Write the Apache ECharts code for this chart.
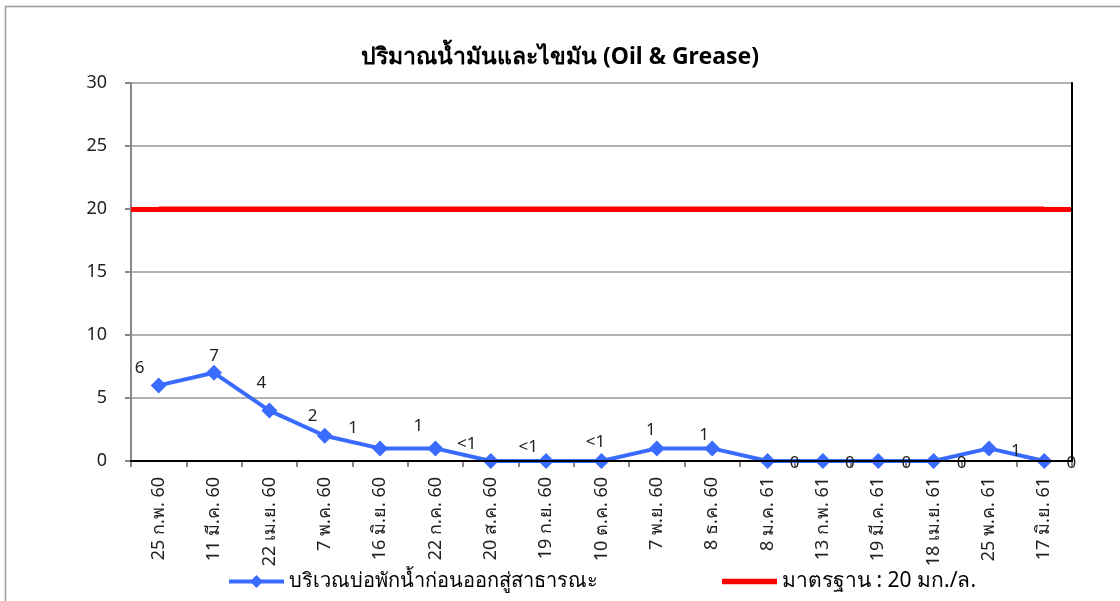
<!DOCTYPE html>
<html>
<head>
    <meta charset="utf-8" />
    <title>Oil & Grease</title>
    <script src="https://cdn.jsdelivr.net/npm/echarts@6/dist/echarts.min.js"></script>
    <style>
        html, body { margin: 0; padding: 0; background: #fff; }
        #main { width: 1120px; height: 601px; }
    </style>
</head>
<body>
    <div id="main"></div>
    <script type="text/javascript">
        // วันที่เก็บตัวอย่าง
        var dates = ['25 ก.พ. 60', '11 มี.ค. 60', '22 เม.ย. 60', '7 พ.ค. 60', '16 มิ.ย. 60', '22 ก.ค. 60',
            '20 ส.ค. 60', '19 ก.ย. 60', '10 ต.ค. 60', '7 พ.ย. 60', '8 ธ.ค. 60', '8 ม.ค. 61',
            '13 ก.พ. 61', '19 มี.ค. 61', '18 เม.ย. 61', '25 พ.ค. 61', '17 มิ.ย. 61'];
        var oilValues = [6, 7, 4, 2, 1, 1, 0, 0, 0, 1, 1, 0, 0, 0, 0, 1, 0];
        var oilLabels = ['6', '7', '4', '2', '1', '1', '<1', '<1', '<1', '1', '1', '0', '0', '0', '0', '1', '0'];
        var standardValue = 20;
        var yTicks = [0, 5, 10, 15, 20, 25, 30];

        var oilName = 'บริเวณบ่อพักน้ำก่อนออกสู่สาธารณะ';
        var stdName = 'มาตรฐาน : 20 มก./ล.';

        // ตำแหน่งป้ายข้อมูลแบบ Excel (เลื่อนจากจุด)
        var labelShift = [[-19, -17], [0, -17], [-8, -27], [-12, -20], [-27, -20], [-17, -22], [-24, -17],
            [-18, -14], [-6, -19], [-6, -18], [-8, -13], [27, 2], [27, 2], [28, 2], [28, 2], [27, 3], [27, 2]];

        var font = 'Tahoma, "Noto Sans", "DejaVu Sans", sans-serif';

        var oilData = oilValues.map(function (v, i) {
            return { value: v, label: { offset: labelShift[i] } };
        });
        var stdData = dates.map(function () { return standardValue; });

        var myChart = echarts.init(document.getElementById('main'));
        var option = {
            textStyle: { fontFamily: font },
            animation: false,
            title: {
                text: 'ปริมาณน้ำมันและไขมัน (Oil & Grease)',
                left: 'center',
                top: 41,
                textStyle: { fontSize: 23, fontWeight: 'bold', color: '#000', fontFamily: font }
            },
            graphic: [{
                type: 'rect',
                shape: { x: 5.5, y: 6.5, width: 1200, height: 700 },
                style: { fill: 'none', stroke: '#999', lineWidth: 1.5 },
                silent: true
            }],
            legend: {
                left: 222,
                top: 566,
                itemWidth: 55,
                itemHeight: 16,
                itemGap: 124,
                textStyle: { fontSize: 20, color: '#000', fontFamily: font },
                data: [
                    { name: oilName, lineStyle: { width: 4 } },
                    { name: stdName, icon: 'path://M0 0h110v11H0z', textStyle: { fontSize: 21, letterSpacing: 2 } }
                ]
            },
            grid: { left: 131, right: 48, top: 83, bottom: 140 },
            xAxis: [{
                type: 'category',
                data: dates,
                boundaryGap: true,
                axisLine: { lineStyle: { color: '#888', width: 2 } },
                axisTick: { show: true, length: 6, lineStyle: { color: '#888', width: 2 } },
                axisLabel: { rotate: 90, interval: 0, margin: 16, fontSize: 18, color: '#222', fontFamily: font }
            }, {
                type: 'category',
                data: dates,
                position: 'top',
                z: 5,
                axisLine: { show: true, lineStyle: { color: '#000', width: 2 } },
                axisTick: { show: false },
                axisLabel: { show: false }
            }],
            yAxis: [{
                type: 'value',
                min: yTicks[0],
                max: yTicks[yTicks.length - 1],
                interval: 5,
                axisLine: { show: true, lineStyle: { color: '#888', width: 2 } },
                axisTick: { show: true, length: 6, lineStyle: { color: '#888', width: 2 } },
                axisLabel: { margin: 24, fontSize: 18, color: '#222', fontFamily: font },
                splitLine: { show: true, lineStyle: { color: '#999', width: 1.5 } }
            }, {
                type: 'value',
                position: 'right',
                min: yTicks[0],
                max: yTicks[yTicks.length - 1],
                interval: 5,
                z: 5,
                axisLine: { show: true, lineStyle: { color: '#000', width: 2 } },
                axisTick: { show: false },
                axisLabel: { show: false },
                splitLine: { show: false }
            }],
            series: [{
                name: stdName,
                type: 'line',
                data: stdData,
                symbol: 'none',
                lineStyle: { color: '#ff0000', width: 5 },
                itemStyle: { color: '#ff0000' },
                z: 2,
                markLine: {
                    silent: true,
                    symbol: 'none',
                    label: { show: false },
                    lineStyle: { color: '#ff0000', width: 5, type: 'solid' },
                    data: [{ yAxis: standardValue }]
                }
            }, {
                name: oilName,
                type: 'line',
                data: oilData,
                symbol: 'diamond',
                symbolSize: 16,
                lineStyle: { color: '#3a6bff', width: 4 },
                itemStyle: { color: '#3a6bff' },
                z: 3,
                label: {
                    show: true,
                    position: 'inside',
                    fontSize: 17,
                    color: '#222',
                    fontFamily: font,
                    formatter: function (p) { return oilLabels[p.dataIndex]; }
                }
            }]
        };
        myChart.setOption(option);
    </script>
</body>
</html>
